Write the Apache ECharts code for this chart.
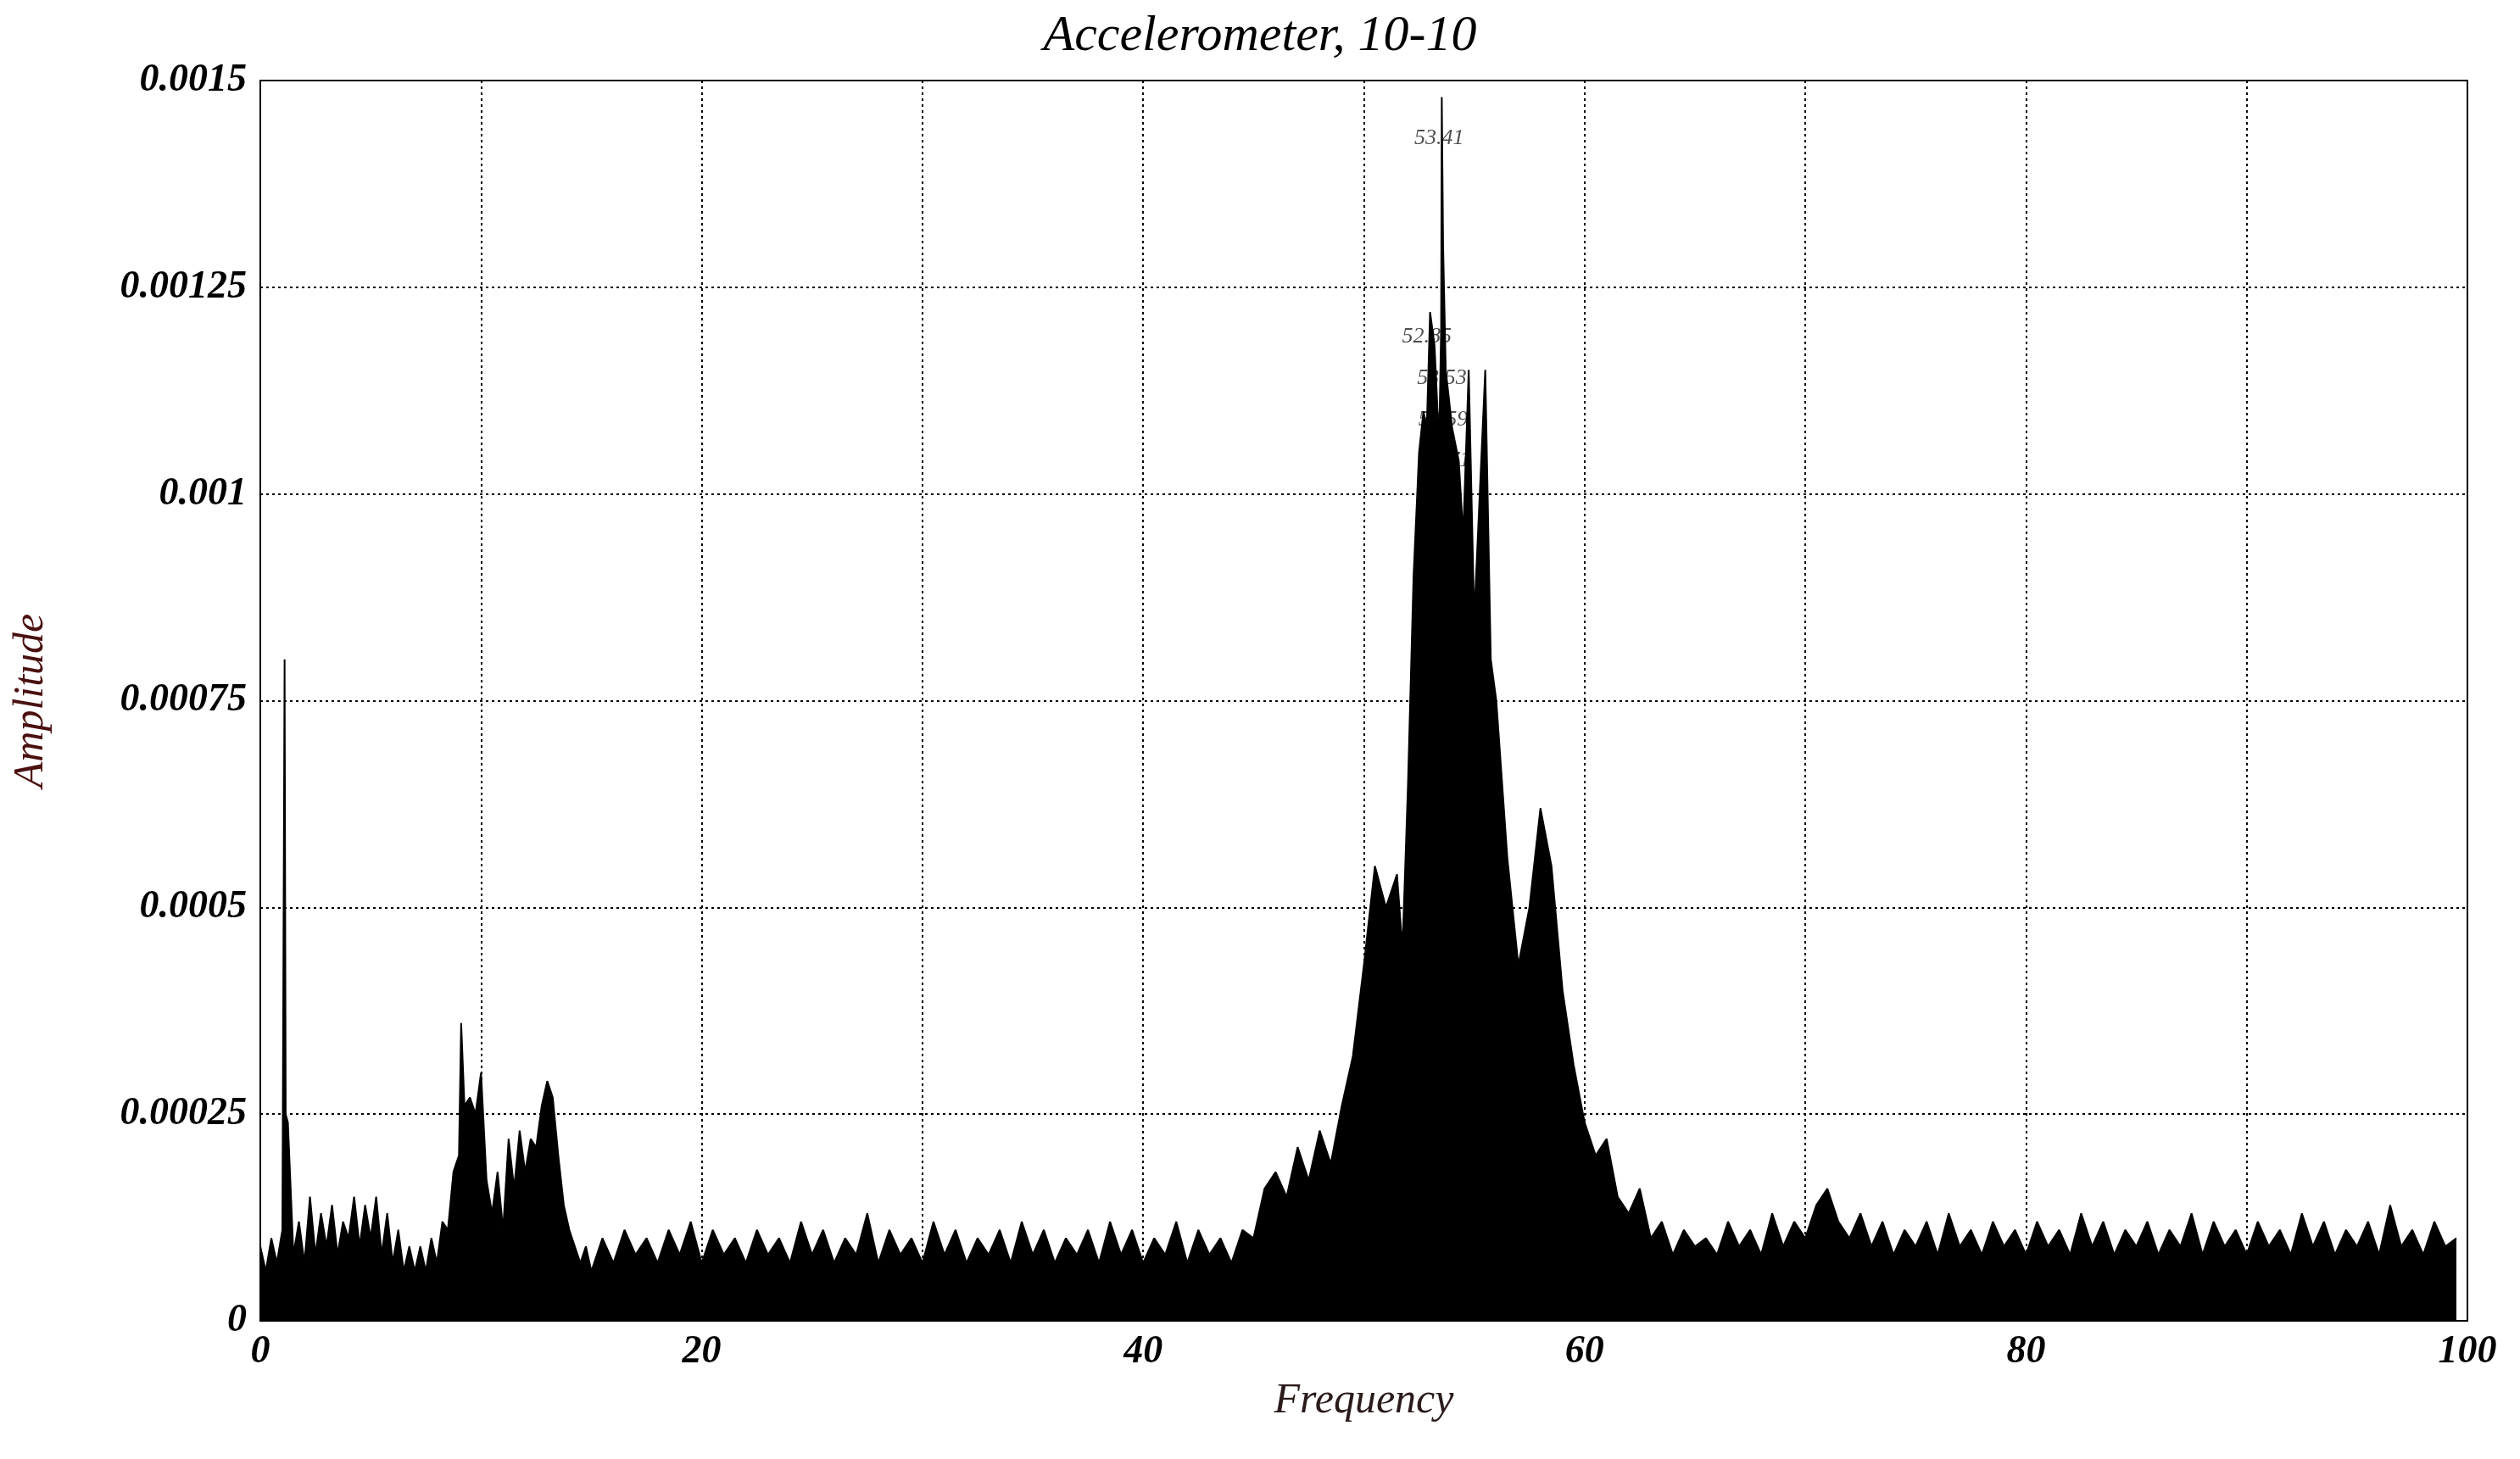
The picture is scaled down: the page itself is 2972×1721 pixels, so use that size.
<!DOCTYPE html>
<html><head><meta charset="utf-8">
<script src="https://cdn.jsdelivr.net/npm/echarts@6/dist/echarts.min.js"></script>
<style>html,body{margin:0;background:#fff}#c{width:2972px;height:1721px}</style>
</head><body><div id="c"></div>
<script>
// spectrum samples: frequency (Hz) and amplitude (x1e-4)
var freq = [0,0.25,0.5,0.75,1.0,1.1,1.15,1.25,1.5,1.75,2,2.25,2.5,2.75,3,3.25,3.5,3.75,4,4.25,4.5,4.75,5,5.25,5.5,5.75,6,6.25,6.5,6.75,7,7.25,7.5,7.75,8,8.25,8.5,8.75,9,9.1,9.25,9.5,9.75,10,10.25,10.5,10.75,11,11.25,11.5,11.75,12,12.25,12.5,12.75,13,13.25,13.5,13.75,14,14.25,14.5,14.75,15,
  15.5,16,16.5,17,17.5,18,18.5,19,19.5,20,20.5,21,21.5,22,22.5,23,23.5,24,24.5,25,25.5,26,26.5,27,27.5,28,28.5,29,29.5,30,30.5,31,31.5,32,32.5,33,33.5,34,34.5,35,35.5,36,36.5,37,37.5,38,38.5,39,39.5,40,40.5,41,41.5,42,42.5,43,43.5,
  44,44.5,45,45.5,46,46.5,47,47.5,48,48.5,49,49.5,50,50.5,51,51.5,51.75,52,52.25,52.5,52.7,52.85,53,53.2,53.41,53.5,53.53,53.59,53.71,54,54.3,54.5,54.75,55,55.5,55.75,56,56.5,57,57.5,58,58.5,59,59.5,60,60.5,61,61.5,62,
  62.5,63,63.5,64,64.5,65,65.5,66,66.5,67,67.5,68,68.5,69,69.5,70,70.5,71,71.5,72,72.5,73,73.5,74,74.5,75,75.5,76,76.5,77,77.5,78,78.5,79,79.5,80,80.5,81,81.5,82,82.5,83,83.5,84,84.5,85,85.5,86,86.5,87,87.5,88,88.5,89,89.5,90,90.5,91,91.5,92,92.5,93,93.5,94,94.5,95,95.5,96,96.5,97,97.5,98,98.5,99,99.5,100];
var amp = [0.9,0.6,1.0,0.7,1.1,8.0,2.5,2.4,0.8,1.2,0.7,1.5,0.8,1.3,0.9,1.4,0.8,1.2,1.0,1.5,0.9,1.4,1.0,1.5,0.8,1.3,0.7,1.1,0.6,0.9,0.6,0.9,0.6,1.0,0.7,1.2,1.1,1.8,2.0,3.6,2.6,2.7,2.5,3.0,1.7,1.3,1.8,1.1,2.2,1.6,2.3,1.8,2.2,2.1,2.6,2.9,2.7,2.0,1.4,1.1,0.9,0.7,0.9,0.6,
  1.0,0.7,1.1,0.8,1.0,0.7,1.1,0.8,1.2,0.7,1.1,0.8,1.0,0.7,1.1,0.8,1.0,0.7,1.2,0.8,1.1,0.7,1.0,0.8,1.3,0.7,1.1,0.8,1.0,0.7,1.2,0.8,1.1,0.7,1.0,0.8,1.1,0.7,1.2,0.8,1.1,0.7,1.0,0.8,1.1,0.7,1.2,0.8,1.1,0.7,1.0,0.8,1.2,0.7,1.1,0.8,1.0,0.7,1.1,
  1.0,1.6,1.8,1.5,2.1,1.7,2.3,1.9,2.6,3.2,4.3,5.5,5.0,5.4,4.5,6.5,9.0,10.5,11.0,10.8,12.2,11.8,10.6,12.0,14.8,13.0,11.5,10.8,10.4,9.5,11.5,8.5,11.5,8.0,7.5,5.6,4.3,5.0,6.2,5.5,4.0,3.1,2.4,2.0,2.2,1.5,1.3,1.6,1.0,
  1.2,0.8,1.1,0.9,1.0,0.8,1.2,0.9,1.1,0.8,1.3,0.9,1.2,1.0,1.4,1.6,1.2,1.0,1.3,0.9,1.2,0.8,1.1,0.9,1.2,0.8,1.3,0.9,1.1,0.8,1.2,0.9,1.1,0.8,1.2,0.9,1.1,0.8,1.3,0.9,1.2,0.8,1.1,0.9,1.2,0.8,1.1,0.9,1.3,0.8,1.2,0.9,1.1,0.8,1.2,0.9,1.1,0.8,1.3,0.9,1.2,0.8,1.1,0.9,1.2,0.8,1.4,0.9,1.1,0.8,1.2,0.9,1.0];
var peakFreq = [53.41, 52.85, 53.53, 53.59, 53.71];
var peakAmp = [14.3, 11.9, 11.4, 10.9, 10.4];
var yTicks = ['0','0.00025','0.0005','0.00075','0.001','0.00125','0.0015'];

var serif = 'Liberation Serif';
var chart = echarts.init(document.getElementById('c'));
chart.setOption({
  backgroundColor: '#fff',
  animation: false,
  title: {text: 'Accelerometer, 10-10', left: 'center', top: 8,
    textStyle: {fontFamily: serif, fontStyle: 'italic', fontWeight: 'normal', fontSize: 60, color: '#000'}},
  grid: {left: 307, right: 62, top: 95, bottom: 163, show: true, borderColor: '#000', borderWidth: 2},
  xAxis: {type: 'value', min: 0, max: 100, interval: 10,
    name: 'Frequency', nameLocation: 'middle', nameGap: 70,
    nameTextStyle: {fontFamily: serif, fontStyle: 'italic', fontSize: 50, color: '#2a1a1a'},
    axisLine: {lineStyle: {color: '#000', width: 2}},
    axisTick: {show: true, length: -8, lineStyle: {color: '#000'}},
    axisLabel: {fontFamily: serif, fontStyle: 'italic', fontWeight: 'bold', fontSize: 46, color: '#000', margin: 14,
      formatter: function (v) { return v % 20 === 0 ? String(v) : ''; }},
    splitLine: {lineStyle: {color: '#000', type: [3, 4], width: 2}}},
  yAxis: {type: 'value', min: 0, max: 0.0015, interval: 0.00025,
    name: 'Amplitude', nameLocation: 'middle', nameGap: 245,
    nameTextStyle: {fontFamily: serif, fontStyle: 'italic', fontSize: 50, color: '#4a1010'},
    axisLine: {lineStyle: {color: '#000', width: 2}},
    axisTick: {show: false},
    axisLabel: {fontFamily: serif, fontStyle: 'italic', fontWeight: 'bold', fontSize: 46, color: '#000', margin: 16,
      formatter: function (v) { return yTicks[Math.round(v / 0.00025)]; }},
    splitLine: {lineStyle: {color: '#000', type: [3, 4], width: 2}}},
  series: [{
    type: 'line', showSymbol: false, symbol: 'none',
    data: freq.map(function (f, i) { return [f, amp[i] * 1e-4]; }),
    lineStyle: {color: '#000', width: 2},
    areaStyle: {color: '#000', opacity: 1}
  }, {
    type: 'scatter', symbolSize: 0,
    data: peakFreq.map(function (f, i) { return [f, peakAmp[i] * 1e-4]; }),
    label: {show: true, position: 'inside', fontFamily: serif, fontStyle: 'italic', fontSize: 26, color: '#222',
      formatter: function (p) { return p.value[0].toFixed(2); }}
  }]
});
</script></body></html>
